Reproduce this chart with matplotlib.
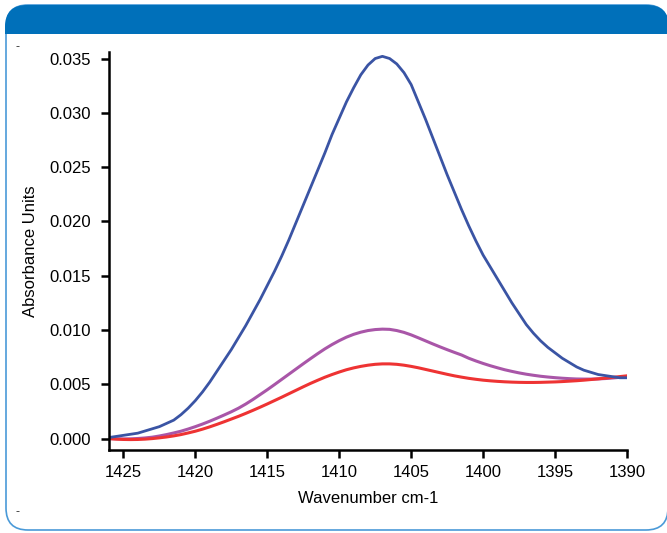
import matplotlib.pyplot as plt
from matplotlib.patches import FancyBboxPatch, Rectangle

plt.rcParams['font.family'] = ['Liberation Sans', 'DejaVu Sans']

# wavenumber (cm-1) and absorbance, every 0.5 cm-1
wavenumber = [1426.0, 1425.5, 1425.0, 1424.5, 1424.0, 1423.5, 1423.0, 1422.5, 1422.0, 1421.5,
              1421.0, 1420.5, 1420.0, 1419.5, 1419.0, 1418.5, 1418.0, 1417.5, 1417.0, 1416.5,
              1416.0, 1415.5, 1415.0, 1414.5, 1414.0, 1413.5, 1413.0, 1412.5, 1412.0, 1411.5,
              1411.0, 1410.5, 1410.0, 1409.5, 1409.0, 1408.5, 1408.0, 1407.5, 1407.0, 1406.5,
              1406.0, 1405.5, 1405.0, 1404.5, 1404.0, 1403.5, 1403.0, 1402.5, 1402.0, 1401.5,
              1401.0, 1400.5, 1400.0, 1399.5, 1399.0, 1398.5, 1398.0, 1397.5, 1397.0, 1396.5,
              1396.0, 1395.5, 1395.0, 1394.5, 1394.0, 1393.5, 1393.0, 1392.5, 1392.0, 1391.5,
              1391.0, 1390.5, 1390.0]

blue = [0.0001, 0.0002, 0.0003, 0.0004, 0.0005, 0.0007, 0.0009, 0.0011, 0.0014, 0.0017,
        0.0022, 0.0028, 0.0035, 0.0043, 0.0052, 0.0062, 0.0072, 0.0082, 0.0093, 0.0104,
        0.0116, 0.0128, 0.0141, 0.0154, 0.0168, 0.0183, 0.0199, 0.0215, 0.0231, 0.0247,
        0.0263, 0.0280, 0.0295, 0.0310, 0.0323, 0.0335, 0.0344, 0.0350, 0.0352, 0.0350,
        0.0345, 0.0337, 0.0326, 0.0310, 0.0294, 0.0277, 0.0260, 0.0243, 0.0227, 0.0211,
        0.0196, 0.0182, 0.0169, 0.0158, 0.0147, 0.0136, 0.0125, 0.0115, 0.0105, 0.0097,
        0.0090, 0.0084, 0.0079, 0.0074, 0.0070, 0.0066, 0.0063, 0.0061, 0.0059, 0.0058,
        0.0057, 0.0056, 0.0056]

purple = [0.00000, -0.00002, -0.00003, -0.00002, 0.00001, 0.00006, 0.00013, 0.00024, 0.00037, 0.00052,
          0.00068, 0.00088, 0.00110, 0.00134, 0.00160, 0.00188, 0.00217, 0.00247, 0.00280, 0.00318,
          0.00360, 0.00405, 0.00450, 0.00497, 0.00545, 0.00593, 0.00641, 0.00689, 0.00736, 0.00782,
          0.00826, 0.00866, 0.00902, 0.00934, 0.00960, 0.00980, 0.00995, 0.01004, 0.01008, 0.01006,
          0.00995, 0.00978, 0.00955, 0.00928, 0.00900, 0.00872, 0.00845, 0.00819, 0.00794, 0.00770,
          0.00740, 0.00715, 0.00692, 0.00671, 0.00652, 0.00634, 0.00619, 0.00605, 0.00593, 0.00583,
          0.00574, 0.00567, 0.00561, 0.00556, 0.00552, 0.00549, 0.00548, 0.00548, 0.00550, 0.00553,
          0.00558, 0.00564, 0.00570]

red = [0.00000, -0.00005, -0.00008, -0.00009, -0.00008, -0.00005, 0.00000, 0.00007, 0.00015, 0.00025,
       0.00037, 0.00052, 0.00068, 0.00087, 0.00108, 0.00131, 0.00155, 0.00180, 0.00205, 0.00232,
       0.00260, 0.00289, 0.00319, 0.00350, 0.00381, 0.00413, 0.00445, 0.00477, 0.00508, 0.00537,
       0.00565, 0.00590, 0.00613, 0.00634, 0.00651, 0.00665, 0.00676, 0.00684, 0.00688, 0.00688,
       0.00684, 0.00676, 0.00665, 0.00652, 0.00637, 0.00622, 0.00607, 0.00592, 0.00578, 0.00566,
       0.00555, 0.00546, 0.00538, 0.00532, 0.00527, 0.00523, 0.00520, 0.00518, 0.00517, 0.00517,
       0.00518, 0.00520, 0.00522, 0.00525, 0.00529, 0.00533, 0.00538, 0.00544, 0.00550, 0.00557,
       0.00564, 0.00571, 0.00578]

xticks = [1425, 1420, 1415, 1410, 1405, 1400, 1395, 1390]
yticks = [0.000, 0.005, 0.010, 0.015, 0.020, 0.025, 0.030, 0.035]

W, H = 667, 533
fig = plt.figure(figsize=(W / 100, H / 100), dpi=100)

# background panel with rounded frame and blue header band
bg = fig.add_axes([0, 0, 1, 1])
bg.set_xlim(0, W)
bg.set_ylim(H, 0)
bg.axis('off')
frame = FancyBboxPatch((6, 5), 662, 525, boxstyle='round,pad=0,rounding_size=22',
                       facecolor='white', edgecolor='#4a9ad8', linewidth=1.2)
bg.add_patch(frame)
header = FancyBboxPatch((5, 5), 664, 80, boxstyle='round,pad=0,rounding_size=22',
                        facecolor='#0070ba', edgecolor='none')
bg.add_patch(header)
clip = Rectangle((0, 0), W, 34, transform=bg.transData)
header.set_clip_path(clip)
bg.text(18, 47, '-', fontsize=9, color='#333333', ha='center', va='center')
bg.text(18, 512, '-', fontsize=9, color='#333333', ha='center', va='center')

ax = fig.add_axes([109 / W, 1 - 450 / H, (627 - 109) / W, (450 - 52) / H])
ax.patch.set_alpha(0)
ax.plot(wavenumber, purple, color='#a956a8', linewidth=2.2)
ax.plot(wavenumber, red, color='#ee3333', linewidth=2.2)
ax.plot(wavenumber, blue, color='#3a54a4', linewidth=2.0)

ax.set_xlim(1426, 1390)
ax.set_ylim(-0.00105, 0.0356)
ax.set_xticks(xticks)
ax.set_xticklabels([str(t) for t in xticks])
ax.set_yticks(yticks)
ax.set_yticklabels([f'{t:.3f}' for t in yticks])
ax.tick_params(direction='out', length=6, width=1.8, labelsize=12, pad=5)
ax.tick_params(axis='y', pad=7)
for s in ['top', 'right']:
    ax.spines[s].set_visible(False)
for s in ['left', 'bottom']:
    ax.spines[s].set_linewidth(1.8)

ax.set_xlabel('Wavenumber cm-1', fontsize=12, labelpad=8)
ax.set_ylabel('Absorbance Units', fontsize=12, labelpad=8)

fig.savefig('out.png', dpi=100)
